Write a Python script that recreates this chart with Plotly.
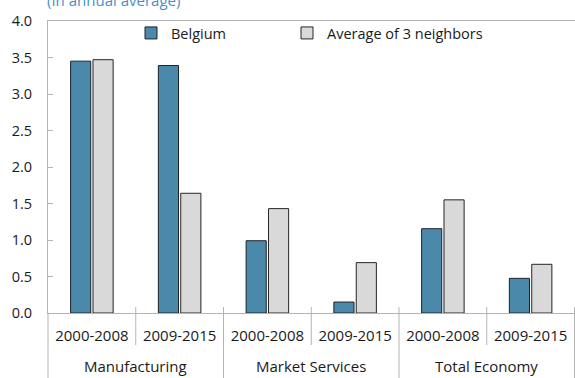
import plotly.graph_objects as go

# Sectors and periods
sectors = ["Manufacturing", "Manufacturing",
           "Market Services", "Market Services",
           "Total Economy", "Total Economy"]
periods = ["2000-2008", "2009-2015"] * 3

# Annual average growth, in percent
belgium = [3.45, 3.39, 0.99, 0.15, 1.155, 0.475]
neighbors = [3.47, 1.64, 1.43, 0.69, 1.55, 0.667]

y_ticks = [0.0, 0.5, 1.0, 1.5, 2.0, 2.5, 3.0, 3.5, 4.0]

FONT = "Open Sans"
TEXT = "#1a1a1a"
GRID = "#b4b4b4"

W, H = 575, 378
M_L, M_R, M_T, M_B = 47.5, 0, 21, 65
PLOT_H = H - M_T - M_B

def px_below_axis(px):
    """Convert a pixel distance below the x axis into paper units."""
    return -px / PLOT_H

# unique category keys, labelled with the period only
keys = [f"{s} | {p}" for s, p in zip(sectors, periods)]

fig = go.Figure()
fig.add_trace(go.Bar(
    name="Belgium", x=keys, y=belgium, legend="legend",
    marker=dict(color="#4a89aa", line=dict(color="#1c2328", width=1)),
))
fig.add_trace(go.Bar(
    name="Average of 3 neighbors", x=keys, y=neighbors, legend="legend2",
    marker=dict(color="#d9d9d9", line=dict(color="#262626", width=1)),
))

# separators between categories: short ones inside a sector, long ones between sectors
shapes = []
for i in range(1, len(keys) + 1):
    left = sectors[i - 1]
    right = sectors[i] if i < len(keys) else None
    group_edge = left != right
    shapes.append(dict(
        type="line", xref="x", yref="paper",
        x0=i - 0.5, x1=i - 0.5,
        y0=6 / PLOT_H, y1=px_below_axis(65 if group_edge else 32),
        line=dict(color=GRID, width=1),
    ))
# the y axis line continues down past the labels
shapes.append(dict(
    type="line", xref="paper", yref="paper", x0=0, x1=0,
    y0=0, y1=px_below_axis(65), line=dict(color=GRID, width=1),
))

# sector names centred under their pair of periods
annotations = []
seen = []
for s in sectors:
    if s in seen:
        continue
    seen.append(s)
    idx = [i for i, v in enumerate(sectors) if v == s]
    annotations.append(dict(
        text=s, xref="x", yref="paper",
        x=sum(idx) / len(idx), y=px_below_axis(53),
        xanchor="center", yanchor="middle", showarrow=False,
        font=dict(family=FONT, size=15, color=TEXT),
    ))
annotations.append(dict(
    text="(In annual average)", xref="paper", yref="paper",
    x=-0.005, y=1 + 9 / PLOT_H, xanchor="left", yanchor="bottom",
    showarrow=False, font=dict(family=FONT, size=15, color="#4a90c8"),
))

legend_common = dict(
    orientation="h", xref="container", yref="container",
    xanchor="left", y=1 - 17 / H, yanchor="top",
    font=dict(family=FONT, size=14.5, color=TEXT),
    bgcolor="rgba(0,0,0,0)",
)

fig.update_layout(
    width=W, height=H,
    margin=dict(l=M_L, r=M_R, t=M_T, b=M_B, autoexpand=False),
    paper_bgcolor="white", plot_bgcolor="white",
    font=dict(family=FONT, size=14, color=TEXT),
    barmode="group", bargap=0.49, bargroupgap=0.1,
    showlegend=True,
    legend=dict(x=131 / W, **legend_common),
    legend2=dict(x=287 / W, **legend_common),
    shapes=shapes,
    annotations=annotations,
)

fig.update_xaxes(
    type="category", tickvals=keys, ticktext=periods,
    showline=True, linecolor=GRID, linewidth=1, mirror=True,
    ticks="", ticklabelstandoff=9,
    showgrid=False, zeroline=False, automargin=False,
    tickfont=dict(family=FONT, size=15, color=TEXT),
)
fig.update_yaxes(
    range=[0, 4], tickvals=y_ticks, tickformat=".1f",
    showline=True, linecolor=GRID, linewidth=1,
    ticks="inside", ticklen=5, tickcolor=GRID, tickwidth=1,
    showgrid=False, zeroline=False, automargin=False,
    ticklabelstandoff=12,
    tickfont=dict(family=FONT, size=14.5, color=TEXT),
)

fig.write_html("out.html")
